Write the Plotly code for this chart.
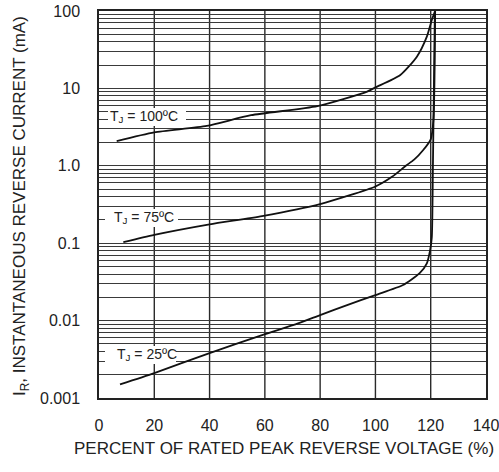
import plotly.graph_objects as go

# ---- data ----
x_25 = [7.6, 20, 40, 59, 72, 80, 90, 100, 110, 116, 118.6, 119.8, 120.4, 120.8, 121.5]
y_25 = [0.0015, 0.0021, 0.0038, 0.0065, 0.0092, 0.0118, 0.016, 0.0214, 0.0288, 0.041, 0.055, 0.082, 0.12, 1.0, 100]

x_75 = [8.8, 20, 40, 59, 80, 100, 106, 111, 114, 117.3, 120, 121, 121.6]
y_75 = [0.103, 0.128, 0.175, 0.224, 0.32, 0.54, 0.72, 1.0, 1.2, 1.6, 2.2, 4.0, 100]

x_100 = [6.4, 20, 39, 55, 79, 97, 100, 109, 115, 118.6, 120.4, 121.6]
y_100 = [2.09, 2.7, 3.27, 4.5, 5.9, 9.1, 10.3, 14.9, 25.7, 46.6, 76.6, 100]

x_ticks = [0, 20, 40, 60, 80, 100, 120, 140]
decades = [0.001, 0.01, 0.1, 1, 10]
decade_labels = ["0.001", "0.01", "0.1", "1.0", "10", "100"]

labels = ["T<sub>J</sub> = 100ºC", "T<sub>J</sub> = 75ºC", "T<sub>J</sub> = 25ºC"]

# y grid at every 1..9 multiple
y_tickvals = []
y_ticktext = []
for i, d in enumerate(decades):
    for k in range(1, 10):
        y_tickvals.append(round(k * d, 6))
        y_ticktext.append(decade_labels[i] if k == 1 else " ")
y_tickvals.append(100)
y_ticktext.append(decade_labels[-1])

FONT = "Liberation Sans, Arial, sans-serif"
PL, PT, PW, PH = 99, 11, 387, 387   # plot area in page pixels
X_RANGE = [0, 140]
Y_LOG_RANGE = [-3, 2]


def px_x(p):
    return (p - PL) / PW


def px_y(p):
    return (PT + PH - p) / PH


def data_x(p):
    return X_RANGE[0] + px_x(p) * (X_RANGE[1] - X_RANGE[0])


def data_y(p):
    return 10 ** (Y_LOG_RANGE[0] + px_y(p) * (Y_LOG_RANGE[1] - Y_LOG_RANGE[0]))


fig = go.Figure()
for xs, ys in [(x_100, y_100), (x_75, y_75), (x_25, y_25)]:
    fig.add_trace(go.Scatter(
        x=xs, y=ys, mode="lines",
        line=dict(color="#111", width=1.8, shape="spline", smoothing=0.6),
        showlegend=False, hoverinfo="skip",
    ))

# vertical grid lines at the inner x ticks
for xv in x_ticks[1:-1]:
    fig.add_shape(type="line", xref="x", yref="paper", x0=xv, x1=xv, y0=0, y1=1,
                  line=dict(color="#2a2a2a", width=1.4), layer="below")

# curve labels: white boxes that break the grid (page pixels), then the text
label_boxes = [(108, 108, 186, 126), (105, 209, 178, 227), (105, 346, 176, 364)]
label_left = [(110, 117), (114, 218), (117, 355)]
for (x0, y0, x1, y1) in label_boxes:
    fig.add_trace(go.Scatter(
        x=[data_x(x0), data_x(x1), data_x(x1), data_x(x0), data_x(x0)],
        y=[data_y(y0), data_y(y0), data_y(y1), data_y(y1), data_y(y0)],
        mode="lines", fill="toself", fillcolor="white",
        line=dict(width=0, color="white"),
        showlegend=False, hoverinfo="skip",
    ))
fig.add_trace(go.Scatter(
    x=[data_x(p[0]) for p in label_left],
    y=[data_y(p[1]) for p in label_left],
    mode="text", text=labels, textposition="middle right",
    textfont=dict(size=14, family=FONT, color="#222"),
    showlegend=False, hoverinfo="skip",
))

fig.update_layout(
    width=499, height=472,
    margin=dict(l=PL, r=499 - PL - PW, t=PT, b=472 - PT - PH, autoexpand=False),
    paper_bgcolor="white", plot_bgcolor="white",
    font=dict(family=FONT, color="#222", size=16),
    xaxis=dict(
        range=X_RANGE, tickmode="array", tickvals=x_ticks,
        ticktext=[str(v) for v in x_ticks],
        showgrid=False,
        showline=True, mirror=True, linecolor="#222", linewidth=1.5,
        zeroline=False, ticks="outside", ticklen=12, tickcolor="rgba(0,0,0,0)",
        automargin=False, ticklabeloverflow="allow",
        tickfont=dict(size=16, family=FONT, color="#222"),
    ),
    yaxis=dict(
        type="log", range=Y_LOG_RANGE, tickmode="array", tickvals=y_tickvals,
        ticktext=y_ticktext,
        showgrid=True, gridcolor="#3a3a3a", gridwidth=1.1,
        showline=True, mirror=True, linecolor="#222", linewidth=1.5,
        zeroline=False, ticks="outside", ticklen=14, tickcolor="rgba(0,0,0,0)",
        automargin=False, ticklabeloverflow="allow",
        tickfont=dict(size=16, family=FONT, color="#222"),
    ),
)

# axis titles
fig.add_annotation(
    x=px_x(8), y=px_y(206), xref="paper", yref="paper",
    text="I<sub>R</sub>, INSTANTANEOUS REVERSE CURRENT (mA)", textangle=-90,
    showarrow=False, font=dict(size=17, family=FONT, color="#222"),
)
fig.add_annotation(
    x=px_x(284), y=px_y(460), xref="paper", yref="paper",
    text="PERCENT OF RATED PEAK REVERSE VOLTAGE (%)",
    showarrow=False, font=dict(size=17, family=FONT, color="#222"),
)
fig.add_annotation(
    x=px_x(275), y=px_y(469), xref="paper", yref="paper",
    yanchor="top",
    text="Fig. 2- Typical Reverse Characteristics",
    showarrow=False, font=dict(size=16, family=FONT, color="#222"),
)

# remove the default 8px page margin so the figure sits at the window's corner
fig.write_html("out.html", config={"displayModeBar": False},
               post_script="document.body.style.margin='0';")
